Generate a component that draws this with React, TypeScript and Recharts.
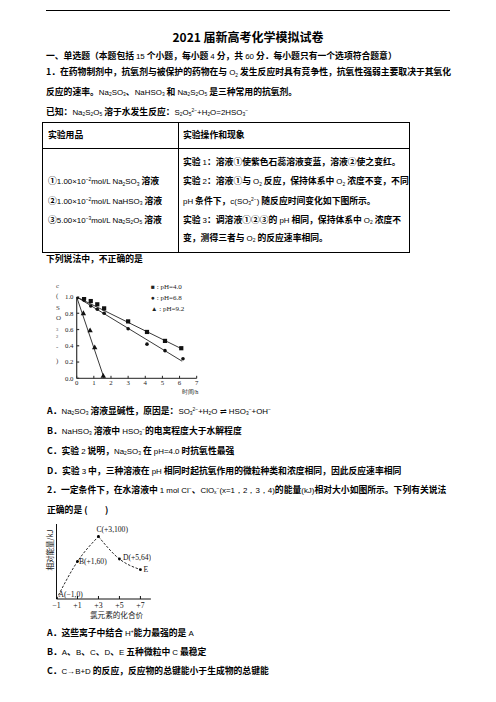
import React from "react";
import { ComposedChart, Line, Scatter, ScatterChart, XAxis, YAxis } from "recharts";

// experiment 2: c(SO3 2-) vs time, three pH values
const timeTicks = [0, 1, 2, 3, 4, 5, 6, 7];
const concTicks = [0, 0.2, 0.4, 0.6, 0.8, 1.0];
const ph40 = [[0, 1.0], [0.43, 0.99], [0.82, 0.95], [1.2, 0.91], [1.6, 0.86], [3.0, 0.7], [4.1, 0.57], [5.15, 0.46], [6.1, 0.37]];
const ph68 = [[0.43, 0.96], [0.82, 0.89], [1.2, 0.85], [1.6, 0.8], [3.0, 0.61], [4.1, 0.42], [5.15, 0.34], [6.2, 0.24]];
const ph92 = [[0.39, 0.8], [0.78, 0.59], [1.05, 0.38], [1.55, 0.03]];
const fit40 = [[0, 1.0], [6.15, 0.36]];
const fit68 = [[0, 1.0], [6.15, 0.21]];
const fit92 = [[0, 1.0], [1.6, 0.0]];

// question 2: relative energy of Cl species
const valenceTicks = [-1, 1, 3, 5, 7];
const energyTicks = [0, 20, 40, 60, 80, 100, 120];
const energyNames = ["A(−1,0)", "B(+1,60)", "C(+3,100)", "D(+5,64)", "E"];
const energyValence = [-1, 1, 3, 5, 7];
const energyValues = [0, 60, 100, 64, 47];

const pts = (a: number[][]) => a.map(([x, y]) => ({ x, y }));
const energy = energyNames.map((name, i) => ({ name, x: energyValence[i], y: energyValues[i] }));
const rise = energy.slice(0, 3);
const fall = energy.slice(2);

const CJK = '"Noto Sans CJK SC", sans-serif';
const SERIF = '"Liberation Serif", serif';

const R = ({ children }: any) => (
  <span style={{ fontFamily: '"Liberation Sans", sans-serif', fontWeight: 400, fontSize: "0.9em" }}>{children}</span>
);
const Sub = ({ children }: any) => (
  <span style={{ fontSize: "0.62em", position: "relative", top: "0.3em" }}>{children}</span>
);
const Sup = ({ children }: any) => (
  <span style={{ fontSize: "0.62em", position: "relative", top: "-0.55em" }}>{children}</span>
);

function T({ x = 0, y, size = 8.8, center = false, children }: any) {
  return (
    <div
      style={{
        position: "absolute",
        left: center ? 0 : x,
        width: center ? 496 : undefined,
        textAlign: center ? "center" : "left",
        top: y - size / 2,
        fontSize: size,
        lineHeight: `${size}px`,
        fontWeight: 700,
        fontFamily: CJK,
        whiteSpace: "nowrap",
        color: "#000",
      }}
    >
      {children}
    </div>
  );
}

const square = (p: any) => <rect x={p.cx - 2.1} y={p.cy - 2.1} width={4.2} height={4.2} fill="#111" />;
const circle = (p: any) => <circle cx={p.cx} cy={p.cy} r={1.8} fill="#111" />;
const triangle = (p: any) => (
  <polygon points={`${p.cx},${p.cy - 2.9} ${p.cx - 2.7},${p.cy + 1.9} ${p.cx + 2.7},${p.cy + 1.9}`} fill="#111" />
);
const none = () => <g />;

const labelOffset: Record<string, [number, number]> = {
  A: [2, -4.2],
  B: [1.5, 0],
  C: [-2, -7],
  D: [3.5, -2],
  E: [3, 0],
};

const energyDot = (p: any) => {
  const [dx, dy] = labelOffset[p.payload.name[0]];
  return (
    <g>
      <circle cx={p.cx} cy={p.cy} r={1.4} fill="#000" />
      <text x={p.cx + dx} y={p.cy + dy} dominantBaseline="central" fontFamily={SERIF} fontSize={7.6} fill="#111">
        {p.payload.name}
      </text>
    </g>
  );
};

const tickStyle = { fontFamily: SERIF, fontSize: 6.8, fill: "#222" };
const legendRows = [
  { mark: "■", text: "pH=4.0", y: 286 },
  { mark: "●", text: "pH=6.8", y: 297 },
  { mark: "▲", text: "pH=9.2", y: 308.5 },
];
const yLabelChars = [
  { c: "c", y: 286 },
  { c: "(", y: 296 },
  { c: "S", y: 308 },
  { c: "O", y: 318 },
  { c: "3", y: 330, s: 4.5 },
  { c: "2", y: 337, s: 4.5 },
  { c: "-", y: 347 },
  { c: ")", y: 361 },
];

function RateChart() {
  return (
    <div style={{ position: "absolute", left: 40, top: 283 }}>
      <ScatterChart width={165} height={115} margin={{ top: 14, right: 8.3, bottom: 0, left: 0 }}>
        <XAxis
          type="number"
          dataKey="x"
          domain={[0, 7]}
          ticks={timeTicks}
          height={19.7}
          stroke="#222"
          tickSize={-2.5}
          tickMargin={4.6}
          tick={tickStyle}
          allowDataOverflow
        />
        <YAxis
          type="number"
          dataKey="y"
          domain={[0, 1]}
          ticks={concTicks}
          width={36.7}
          stroke="#333"
          strokeWidth={1.2}
          tickSize={-2.5}
          tickMargin={5.7}
          tick={tickStyle}
          tickFormatter={(v: number) => v.toFixed(1)}
          allowDataOverflow
        />
        <Scatter data={pts(fit40)} line={{ stroke: "#222", strokeWidth: 0.9 }} shape={none} isAnimationActive={false} />
        <Scatter data={pts(fit68)} line={{ stroke: "#222", strokeWidth: 0.9 }} shape={none} isAnimationActive={false} />
        <Scatter data={pts(fit92)} line={{ stroke: "#222", strokeWidth: 0.9 }} shape={none} isAnimationActive={false} />
        <Scatter data={pts(ph40)} shape={square} isAnimationActive={false} />
        <Scatter data={pts(ph68)} shape={circle} isAnimationActive={false} />
        <Scatter data={pts(ph92)} shape={triangle} isAnimationActive={false} />
      </ScatterChart>
    </div>
  );
}

function EnergyChart() {
  return (
    <div style={{ position: "absolute", left: 20, top: 515 }}>
      <ComposedChart width={140} height={105} margin={{ top: 9, right: 9.1, bottom: 0, left: 0 }}>
        <XAxis
          type="number"
          dataKey="x"
          domain={[-1, 8]}
          ticks={valenceTicks}
          height={21}
          stroke="#111"
          tickSize={-3}
          tickMargin={6.3}
          tick={{ ...tickStyle, fontSize: 7.8, fill: "#111" }}
          tickFormatter={(v: number) => (v < 0 ? "−" + Math.abs(v) : "+" + v)}
          allowDataOverflow
        />
        <YAxis
          type="number"
          dataKey="y"
          domain={[0, 120]}
          ticks={energyTicks}
          width={36.5}
          stroke="#111"
          tickSize={-3.5}
          tick={false}
          allowDataOverflow
        />
        <Line data={rise} dataKey="y" type="natural" stroke="#111" strokeWidth={0.9} strokeDasharray="2.5 1.6" dot={false} isAnimationActive={false} />
        <Line data={fall} dataKey="y" type="natural" stroke="#111" strokeWidth={0.9} strokeDasharray="2.5 1.6" dot={false} isAnimationActive={false} />
        <Scatter data={energy} shape={energyDot} isAnimationActive={false} />
      </ComposedChart>
    </div>
  );
}

export default function App() {
  const cell = { position: "absolute" as const, background: "#000" };
  return (
    <div style={{ position: "absolute", left: 0, top: 0, width: 496, height: 702, background: "#fff", overflow: "hidden" }}>
      <div style={{ position: "absolute", left: 46, top: 10, width: 404, height: 1, background: "#000" }} />

      <T y={37} size={12} center>
        2021 届新高考化学模拟试卷
      </T>
      <T x={46} y={56}>
        一、单选题（本题包括 <R>15</R> 个小题，每小题 <R>4</R> 分，共 <R>60</R> 分．每小题只有一个选项符合题意）
      </T>
      <T x={46} y={72.5}>
        1．在药物制剂中，抗氧剂与被保护的药物在与 <R>O<Sub>2</Sub></R> 发生反应时具有竞争性，抗氧性强弱主要取决于其氧化
      </T>
      <T x={46} y={92}>
        反应的速率。<R>Na<Sub>2</Sub>SO<Sub>3</Sub></R>、<R>NaHSO<Sub>3</Sub></R> 和 <R>Na<Sub>2</Sub>S<Sub>2</Sub>O<Sub>5</Sub></R> 是三种常用的抗氧剂。
      </T>
      <T x={46} y={112}>
        已知：<R>Na<Sub>2</Sub>S<Sub>2</Sub>O<Sub>5</Sub></R> 溶于水发生反应：
        <R>
          S<Sub>2</Sub>O<Sub>5</Sub>
          <Sup>2−</Sup>+H<Sub>2</Sub>O=2HSO<Sub>3</Sub>
          <Sup>−</Sup>
        </R>
      </T>

      {/* table frame */}
      <div style={{ ...cell, left: 42, top: 121.5, width: 367.5, height: 1 }} />
      <div style={{ ...cell, left: 42, top: 147.5, width: 367.5, height: 1 }} />
      <div style={{ ...cell, left: 42, top: 251.8, width: 367.5, height: 1 }} />
      <div style={{ ...cell, left: 42, top: 121.5, width: 1, height: 131.3 }} />
      <div style={{ ...cell, left: 178, top: 121.5, width: 1, height: 131.3 }} />
      <div style={{ ...cell, left: 408.8, top: 121.5, width: 1, height: 131.3 }} />

      <T x={48} y={135}>实验用品</T>
      <T x={183} y={135}>实验操作和现象</T>
      <T x={48} y={181.5}>
        ①<R>1.00×10<Sup>−2</Sup>mol/L Na<Sub>2</Sub>SO<Sub>3</Sub></R> 溶液
      </T>
      <T x={48} y={201}>
        ②<R>1.00×10<Sup>−2</Sup>mol/L NaHSO<Sub>3</Sub></R> 溶液
      </T>
      <T x={48} y={220}>
        ③<R>5.00×10<Sup>−3</Sup>mol/L Na<Sub>2</Sub>S<Sub>2</Sub>O<Sub>5</Sub></R> 溶液
      </T>
      <T x={183} y={162.5}>
        实验 <R>1</R>：溶液①使紫色石蕊溶液变蓝，溶液②使之变红。
      </T>
      <T x={183} y={181.5}>
        实验 <R>2</R>：溶液①与 <R>O<Sub>2</Sub></R> 反应，保持体系中 <R>O<Sub>2</Sub></R> 浓度不变，不同
      </T>
      <T x={183} y={201}>
        <R>pH</R> 条件下，<R>c(SO<Sub>3</Sub><Sup>2−</Sup>)</R> 随反应时间变化如下图所示。
      </T>
      <T x={183} y={220}>
        实验 <R>3</R>：调溶液①②③的 <R>pH</R> 相同，保持体系中 <R>O<Sub>2</Sub></R> 浓度不
      </T>
      <T x={183} y={238}>
        变，测得三者与 <R>O<Sub>2</Sub></R> 的反应速率相同。
      </T>
      <T x={46} y={259.5}>下列说法中，不正确的是</T>

      {/* chart 1 */}
      <RateChart />
      {yLabelChars.map((d, i) => (
        <div
          key={i}
          style={{
            position: "absolute",
            left: 56,
            top: d.y - (d.s ?? 7) / 2,
            fontSize: d.s ?? 7,
            lineHeight: `${d.s ?? 7}px`,
            fontFamily: SERIF,
            color: "#444",
          }}
        >
          {d.c}
        </div>
      ))}
      {legendRows.map((r, i) => (
        <div
          key={i}
          style={{ position: "absolute", left: 151, top: r.y - 3.5, fontSize: 7, lineHeight: "7px", fontFamily: SERIF, color: "#222", whiteSpace: "nowrap" }}
        >
          <span style={{ fontSize: 6.5 }}>{r.mark}</span> : {r.text}
        </div>
      ))}
      <div style={{ position: "absolute", left: 181.5, top: 388.5, fontSize: 6.2, lineHeight: "6px", fontFamily: SERIF, color: "#222", whiteSpace: "nowrap" }}>
        时间/h
      </div>

      <T x={47} y={411}>
        A．<R>Na<Sub>2</Sub>SO<Sub>3</Sub></R> 溶液显碱性，原因是：
        <R>
          SO<Sub>3</Sub>
          <Sup>2−</Sup>+H<Sub>2</Sub>O ⇌ HSO<Sub>3</Sub>
          <Sup>−</Sup>+OH<Sup>−</Sup>
        </R>
      </T>
      <T x={47} y={431}>
        B．<R>NaHSO<Sub>3</Sub></R> 溶液中 <R>HSO<Sub>3</Sub><Sup>−</Sup></R>的电离程度大于水解程度
      </T>
      <T x={47} y={451}>
        C．实验 <R>2</R> 说明，<R>Na<Sub>2</Sub>SO<Sub>3</Sub></R> 在 <R>pH=4.0</R> 时抗氧性最强
      </T>
      <T x={47} y={471}>
        D．实验 <R>3</R> 中，三种溶液在 <R>pH</R> 相同时起抗氧作用的微粒种类和浓度相同，因此反应速率相同
      </T>
      <T x={47} y={490}>
        2．一定条件下，在水溶液中 <R>1 mol Cl<Sup>−</Sup></R>、<R>ClO<Sub>x</Sub><Sup>−</Sup>(x=1，2，3，4)</R>的能量<R>(kJ)</R>相对大小如图所示。下列有关说法
      </T>
      <T x={47} y={510}>正确的是 (　　)</T>

      {/* chart 2 */}
      <EnergyChart />
      <div
        style={{
          position: "absolute",
          left: 49.5,
          top: 549.5,
          transform: "translate(-50%, -50%) rotate(-90deg)",
          fontSize: 7.5,
          lineHeight: "7.5px",
          fontFamily: CJK,
          color: "#222",
          whiteSpace: "nowrap",
        }}
      >
        相对能量/kJ
      </div>
      <div style={{ position: "absolute", left: 90, top: 610.5, fontSize: 7.6, lineHeight: "8px", fontFamily: CJK, color: "#222", whiteSpace: "nowrap" }}>
        氯元素的化合价
      </div>

      <T x={47} y={633.5}>
        A．这些离子中结合 <R>H<Sup>+</Sup></R>能力最强的是 <R>A</R>
      </T>
      <T x={47} y={652.5}>
        B．<R>A</R>、<R>B</R>、<R>C</R>、<R>D</R>、<R>E</R> 五种微粒中 <R>C</R> 最稳定
      </T>
      <T x={47} y={671.5}>
        C．<R>C→B+D</R> 的反应，反应物的总键能小于生成物的总键能
      </T>
    </div>
  );
}
